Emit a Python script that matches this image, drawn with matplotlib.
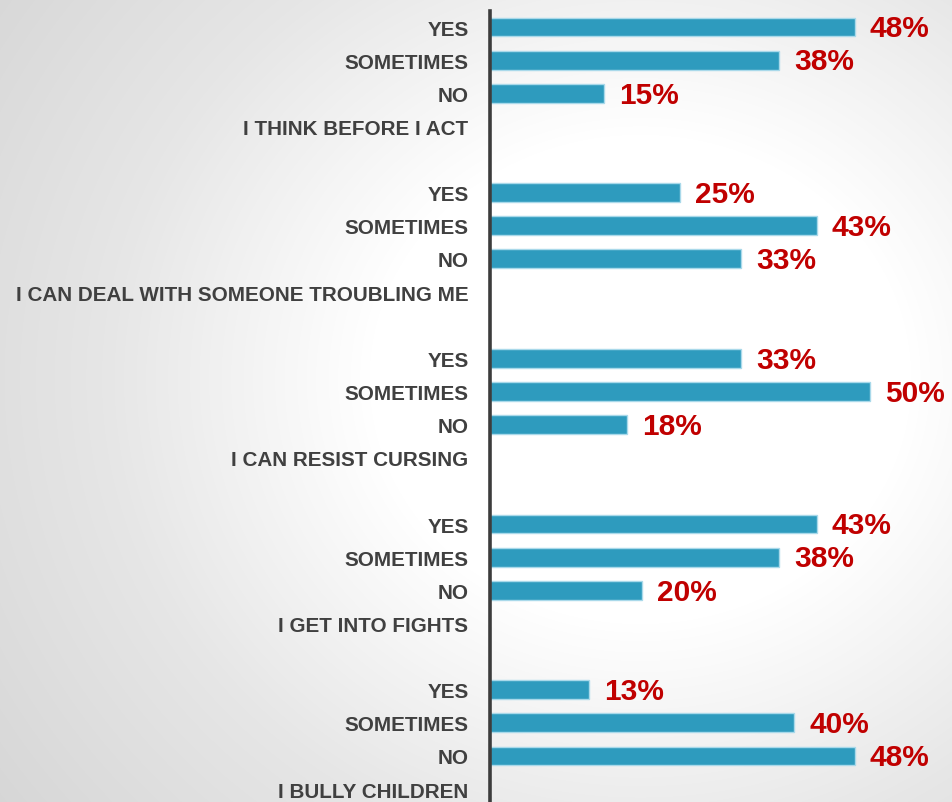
import numpy as np
import matplotlib
matplotlib.use("Agg")
import matplotlib.pyplot as plt
from matplotlib.colors import LinearSegmentedColormap

questions = [
    "I THINK BEFORE I ACT",
    "I CAN DEAL WITH SOMEONE TROUBLING ME",
    "I CAN RESIST CURSING",
    "I GET INTO FIGHTS",
    "I BULLY CHILDREN",
]
answers = ["YES", "SOMETIMES", "NO"]
yes_pct = [48, 25, 33, 43, 13]
sometimes_pct = [38, 43, 50, 38, 40]
no_pct = [15, 33, 18, 20, 48]

W, H, DPI = 953, 803, 100
fig = plt.figure(figsize=(W / DPI, H / DPI), dpi=DPI)

# radial grey-to-white backdrop
bg = fig.add_axes([0, 0, 1, 1], zorder=0)
yy, xx = np.mgrid[0:H, 0:W]
r = np.hypot((xx - 640) / 620.0, (yy - 380) / 560.0)
cmap = LinearSegmentedColormap.from_list("bg", ["#ffffff", "#ffffff", "#e6e6e6", "#d6d6d6"], N=256)
bg.imshow(np.clip(r, 0, 1.3), cmap=cmap, vmin=0, vmax=1.3, aspect="auto", extent=[0, W, H, 0])
bg.set_axis_off()

ax = fig.add_axes([490 / W, 0, (W - 490) / W, 791 / H], zorder=1)
ax.patch.set_alpha(0)

slot = 0
positions, labels = [], []
for q, y_, s_, n_ in zip(questions, yes_pct, sometimes_pct, no_pct):
    for a, v in zip(answers, [y_, s_, n_]):
        ax.barh(slot, v, height=0.57, color="#2e9bbe", edgecolor="#a9d9ea", linewidth=1.0)
        ax.text(v + 2.0, slot + 0.04, f"{v}%", va="center", ha="left", color="#c00000",
                fontsize=21.5, fontweight="bold", family="Liberation Sans")
        positions.append(slot)
        labels.append(a)
        slot += 1
    positions.append(slot)
    labels.append(q)
    slot += 2

ax.set_xlim(0, (W - 490) / 7.6)
ax.set_ylim(23.39, -0.483)
ax.set_yticks(positions)
ax.set_yticklabels(labels, fontsize=14.9, fontweight="bold", color="#404040", family="Liberation Sans")
ax.tick_params(axis="y", length=0, pad=15.5)
ax.set_xticks([])
for s in ["top", "right", "bottom"]:
    ax.spines[s].set_visible(False)
ax.spines["left"].set_linewidth(2.6)
ax.spines["left"].set_color("#3c3c3c")

fig.savefig("out.png", dpi=DPI)
